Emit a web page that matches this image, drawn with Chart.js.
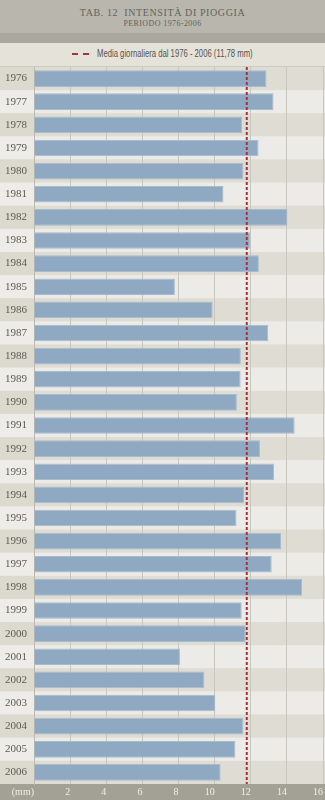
<!DOCTYPE html>
<html>
<head>
<meta charset="utf-8">
<script src="https://cdn.jsdelivr.net/npm/chart.js@4/dist/chart.umd.min.js"></script>
<style>
    body { margin: 0; width: 325px; height: 800px; overflow: hidden; background: #e5e2d9; }
    #titolo { position: absolute; left: 0; top: 0; width: 325px; height: 33px; background: #b8b6ad; text-align: center; font-family: 'Liberation Serif', serif; color: #66635b; }
    #titolo .t1 { position: absolute; top: 7px; width: 100%; font-size: 10px; letter-spacing: 0.6px; }
    #titolo .t2 { position: absolute; top: 19px; width: 100%; font-size: 8px; letter-spacing: 0.4px; }
    #striscia { position: absolute; left: 0; top: 33px; width: 325px; height: 10px; background: #a9a79e; }
    #legenda { position: absolute; left: 0; top: 43px; width: 325px; height: 23px; background: #e5e2d9; border-bottom: 1px solid #cdcac1; font-family: 'Liberation Sans', sans-serif; font-size: 10px; color: #56534d; }
    #legenda .campione { position: absolute; left: 72px; top: 10px; width: 17px; height: 0; border-top: 2px dashed #a8323a; }
    #legenda .testo { position: absolute; left: 97px; top: 5px; white-space: nowrap; transform: scaleX(0.77); transform-origin: left center; }
    #grafica { position: absolute; left: 0; top: 67px; width: 325px; height: 733px; }
</style>
</head>
<body>
<div id="titolo">
    <div class="t1">TAB. 12&nbsp; INTENSITÀ DI PIOGGIA</div>
    <div class="t2">PERIODO 1976-2006</div>
</div>
<div id="striscia"></div>
<div id="legenda">
    <div class="campione"></div>
    <div class="testo">Media giornaliera dal 1976 - 2006 (11,78 mm)</div>
</div>
<div id="grafica"><canvas id="myChart"></canvas></div>

<script>
let anni = ['1976', '1977', '1978', '1979', '1980', '1981', '1982', '1983', '1984', '1985',
    '1986', '1987', '1988', '1989', '1990', '1991', '1992', '1993', '1994', '1995',
    '1996', '1997', '1998', '1999', '2000', '2001', '2002', '2003', '2004', '2005', '2006'];
let intensita = [12.87, 13.26, 11.52, 12.43, 11.59, 10.49, 14.03, 11.98, 12.45, 7.80,
    9.89, 12.97, 11.45, 11.44, 11.23, 14.43, 12.51, 13.30, 11.63, 11.21,
    13.68, 13.16, 14.84, 11.50, 11.72, 8.08, 9.43, 10.04, 11.58, 11.15, 10.33];
let mediaGiornaliera = 11.78;
let tickValori = [0, 2, 4, 6, 8, 10, 12, 14, 16];

// fasce alternate delle righe e striscia grigia sotto l'asse
let sfondoRighe = {
    id: 'sfondoRighe',
    beforeDraw(chart) {
        let ctx = chart.ctx;
        let y = chart.scales.y;
        let area = chart.chartArea;
        let meta = (y.getPixelForValue(1) - y.getPixelForValue(0)) / 2;
        ctx.save();
        for (let i = 0; i < anni.length; i++) {
            let c = y.getPixelForValue(i);
            ctx.fillStyle = i % 2 == 0 ? '#dfdcd4' : '#ecebe7';
            ctx.fillRect(area.left, c - meta, chart.width - area.left, meta * 2);
            ctx.fillStyle = i % 2 == 0 ? '#dcd9cf' : '#eeece8';
            ctx.fillRect(0, c - meta, area.left, meta * 2);
        }
        ctx.fillStyle = '#a3a196';
        ctx.fillRect(0, area.bottom, chart.width, chart.height - area.bottom);
        ctx.restore();
    }
};

// linea tratteggiata della media
let lineaMedia = {
    id: 'lineaMedia',
    afterDatasetsDraw(chart) {
        let ctx = chart.ctx;
        let x = chart.scales.x.getPixelForValue(mediaGiornaliera);
        ctx.save();
        ctx.strokeStyle = '#a8323a';
        ctx.lineWidth = 2;
        ctx.setLineDash([3, 2]);
        ctx.beginPath();
        ctx.moveTo(x, chart.chartArea.top);
        ctx.lineTo(x, chart.chartArea.bottom);
        ctx.stroke();
        ctx.restore();
    }
};

let data = {
    labels: anni,
    datasets: [{
        label: 'Intensità di pioggia',
        data: intensita,
        backgroundColor: '#8fa9c2',
        borderColor: '#a7bbce',
        borderWidth: 1,
        barPercentage: 0.72,
        categoryPercentage: 1
    }]
};

let config = {
    type: 'bar',
    data: data,
    options: {
        indexAxis: 'y',
        responsive: true,
        maintainAspectRatio: false,
        animation: false,
        layout: { padding: 0 },
        plugins: {
            legend: { display: false },
            tooltip: { enabled: false }
        },
        scales: {
            x: {
                min: 0,
                max: 16,
                afterBuildTicks: (scale) => { scale.ticks = tickValori.map(v => ({ value: v })); },
                afterFit: (scale) => { scale.height = 16; },
                grid: { color: '#c9c6be', drawTicks: false },
                border: { display: false },
                ticks: {
                    align: 'end',
                    padding: 2,
                    color: '#f0ede6',
                    font: { family: 'Liberation Serif', size: 10 },
                    callback: (v) => v == 0 ? '(mm)' : v
                }
            },
            y: {
                afterFit: (scale) => {
                    scale.width = 34;
                    scale.paddingTop = 0;
                    scale.paddingBottom = 0;
                },
                grid: { display: false, drawTicks: false },
                border: { display: true, color: '#bcb9b0' },
                ticks: {
                    padding: 7,
                    color: '#5d5a52',
                    font: { family: 'Liberation Serif', size: 11 }
                }
            }
        }
    },
    plugins: [sfondoRighe, lineaMedia]
};

let myChart = new Chart(document.getElementById('myChart'), config);
</script>
</body>
</html>
